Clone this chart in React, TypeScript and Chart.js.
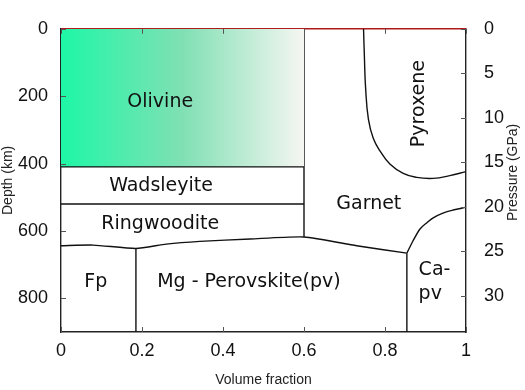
import { useEffect, useRef } from 'react';
import { Chart, registerables } from 'chart.js';

Chart.register(...registerables);

// ---- axes ----
const xTicks = [0, 0.2, 0.4, 0.6, 0.8, 1];
const depthTicks = [0, 200, 400, 600, 800];
const pressureTicks = [0, 5, 10, 15, 20, 25, 30];
const depthMax = 900;
const pressureMax = 34.1;

// ---- phase boundaries (x = volume fraction, y = depth km) ----
const surfaceLine = [{ x: 0, y: 0 }, { x: 1, y: 0 }];
const olivineBase = [{ x: 0, y: 410 }, { x: 0.6, y: 410 }];
const wadsleyiteBase = [{ x: 0, y: 520 }, { x: 0.6, y: 520 }];
const garnetWestEdge = [{ x: 0.6, y: 0 }, { x: 0.6, y: 618 }];
const lowerMantleTop = [
  { x: 0, y: 644 }, { x: 0.08, y: 642 }, { x: 0.185, y: 652 }, { x: 0.26, y: 639 },
  { x: 0.343, y: 631 }, { x: 0.467, y: 624 }, { x: 0.6, y: 618 }, { x: 0.73, y: 644 },
  { x: 0.854, y: 666 },
];
const fpPvBoundary = [{ x: 0.185, y: 652 }, { x: 0.185, y: 900 }];
const caPvBoundary = [{ x: 0.854, y: 666 }, { x: 0.854, y: 900 }];
const garnetCaPvBoundary = [
  { x: 0.854, y: 666 }, { x: 0.869, y: 630 }, { x: 0.886, y: 595 }, { x: 0.904, y: 575 },
  { x: 0.919, y: 561 }, { x: 0.943, y: 547 }, { x: 0.968, y: 538 }, { x: 1, y: 530 },
];
const pyroxeneBoundary = [
  { x: 0.747, y: 0 }, { x: 0.749, y: 78 }, { x: 0.752, y: 173 }, { x: 0.759, y: 268 },
  { x: 0.771, y: 325 }, { x: 0.788, y: 363 }, { x: 0.812, y: 401 }, { x: 0.845, y: 429 },
  { x: 0.878, y: 441 }, { x: 0.919, y: 444 }, { x: 0.96, y: 436 }, { x: 1, y: 424 },
];

// ---- phase names ----
const phaseNames = ['Olivine', 'Wadsleyite', 'Ringwoodite', 'Garnet', 'Pyroxene', 'Fp', 'Mg - Perovskite(pv)', 'Ca-', 'pv'];
const phaseX = [0.245, 0.247, 0.245, 0.76, 0.885, 0.086, 0.464, 0.883, 0.883];
const phaseDepth = [216, 467, 580, 521, 222, 752, 752, 715, 786];
const phaseAlign = ['center', 'center', 'center', 'center', 'center', 'center', 'center', 'left', 'left'];
const phaseRotated = [false, false, false, false, true, false, false, false, false];

const LINE = '#111111';

const inwardTicks = {
  id: 'inwardTicks',
  afterDatasetsDraw(chart: any) {
    const { ctx, chartArea: a, scales } = chart;
    ctx.save();
    ctx.strokeStyle = '#555';
    ctx.lineWidth = 1;
    ctx.beginPath();
    for (const v of xTicks) {
      const px = Math.round(scales.x.getPixelForValue(v)) + 0.5;
      ctx.moveTo(px, a.bottom);
      ctx.lineTo(px, a.bottom - 5);
      ctx.moveTo(px, a.top);
      ctx.lineTo(px, a.top + 5);
    }
    for (const v of depthTicks) {
      const py = Math.round(scales.y.getPixelForValue(v)) + 0.5;
      ctx.moveTo(a.left, py);
      ctx.lineTo(a.left + 5, py);
    }
    for (const v of pressureTicks) {
      const py = Math.round(scales.y2.getPixelForValue(v)) + 0.5;
      ctx.moveTo(a.right, py);
      ctx.lineTo(a.right - 5, py);
    }
    ctx.stroke();

    // phase labels
    ctx.fillStyle = '#111';
    ctx.font = '19px "DejaVu Sans"';
    ctx.textBaseline = 'middle';
    phaseNames.forEach((t, i) => {
      const px = scales.x.getPixelForValue(phaseX[i]);
      const py = scales.y.getPixelForValue(phaseDepth[i]);
      ctx.save();
      ctx.translate(px, py);
      if (phaseRotated[i]) ctx.rotate(-Math.PI / 2);
      ctx.textAlign = phaseAlign[i] as CanvasTextAlign;
      ctx.fillText(t, 0, 0);
      ctx.restore();
    });

    // right axis title (reads bottom to top)
    ctx.save();
    ctx.font = '14px "Liberation Sans"';
    ctx.fillStyle = '#222';
    ctx.textAlign = 'center';
    ctx.translate(513, (a.top + a.bottom) / 2 - 8);
    ctx.rotate(-Math.PI / 2);
    ctx.fillText('Pressure (GPa)', 0, 0);
    ctx.restore();
    ctx.restore();
  },
};

function lineSet(data: any[], extra: any = {}) {
  return {
    data,
    borderColor: LINE,
    borderWidth: 1.4,
    pointRadius: 0,
    showLine: true,
    fill: false,
    tension: 0,
    ...extra,
  };
}

export default function App() {
  const ref = useRef<HTMLCanvasElement | null>(null);

  useEffect(() => {
    if (!ref.current) return;
    const tickFont = { family: '"Liberation Sans"', size: 18 };
    const chart = new Chart(ref.current, {
      type: 'scatter',
      data: {
        datasets: [
          lineSet(olivineBase, {
            fill: { value: 0 },
            backgroundColor: (c: any) => {
              const ch = c.chart;
              if (!ch.chartArea) return 'rgba(0,0,0,0)';
              const x0 = ch.scales.x.getPixelForValue(0);
              const x1 = ch.scales.x.getPixelForValue(0.6);
              const g = ch.ctx.createLinearGradient(x0, 0, x1, 0);
              g.addColorStop(0, 'rgb(30,247,166)');
              g.addColorStop(0.5, 'rgb(128,224,180)');
              g.addColorStop(1, 'rgb(246,246,242)');
              return g;
            },
          }),
          lineSet(wadsleyiteBase),
          lineSet(garnetWestEdge),
          lineSet(lowerMantleTop, { tension: 0.2 }),
          lineSet(fpPvBoundary),
          lineSet(caPvBoundary),
          lineSet(garnetCaPvBoundary, { cubicInterpolationMode: 'monotone' }),
          lineSet(pyroxeneBoundary, { tension: 0.45 }),
          lineSet(surfaceLine, { borderColor: '#b01a1a', borderWidth: 1.5, clip: false }),
        ] as any,
      },
      options: {
        animation: false,
        responsive: true,
        maintainAspectRatio: false,
        layout: { padding: { top: 16, left: 0, right: 0, bottom: 0 } },
        plugins: { legend: { display: false }, tooltip: { enabled: false } },
        scales: {
          x: {
            type: 'linear',
            position: 'bottom',
            min: 0,
            max: 1,
            afterBuildTicks: (s: any) => { s.ticks = xTicks.map((v) => ({ value: v })); },
            afterFit: (s: any) => { s.height = 58; },
            ticks: { font: tickFont, color: '#111', padding: 8, maxRotation: 0, callback: (v: any) => String(v) },
            grid: { display: false, drawTicks: false },
            border: { display: true, color: '#222', width: 1.4 },
            title: { display: true, text: 'Volume fraction', color: '#222', font: { family: '"Liberation Sans"', size: 14 }, padding: { top: 0, bottom: 1 } },
          },
          y: {
            type: 'linear',
            position: 'left',
            min: 0,
            max: depthMax,
            reverse: true,
            afterBuildTicks: (s: any) => { s.ticks = depthTicks.map((v) => ({ value: v })); },
            afterFit: (s: any) => { s.width = 61; },
            ticks: { font: tickFont, color: '#111', padding: 13 },
            grid: { display: false, drawTicks: false },
            border: { display: true, color: '#222', width: 1.4 },
            title: { display: true, text: 'Depth (km)', color: '#222', font: { family: '"Liberation Sans"', size: 14 }, padding: { top: 0, bottom: 0 } },
          },
          y2: {
            type: 'linear',
            position: 'right',
            min: 0,
            max: pressureMax,
            reverse: true,
            afterBuildTicks: (s: any) => { s.ticks = pressureTicks.map((v) => ({ value: v })); },
            afterFit: (s: any) => { s.width = 59; },
            ticks: { font: tickFont, color: '#111', padding: 18 },
            grid: { display: false, drawTicks: false },
            border: { display: true, color: '#222', width: 1.4 },
          },
        },
      } as any,
      plugins: [inwardTicks],
    });
    return () => chart.destroy();
  }, []);

  return (
    <div style={{ position: 'fixed', left: 0, top: 0, width: 525, height: 390, background: '#fff' }}>
      <canvas ref={ref} />
    </div>
  );
}
